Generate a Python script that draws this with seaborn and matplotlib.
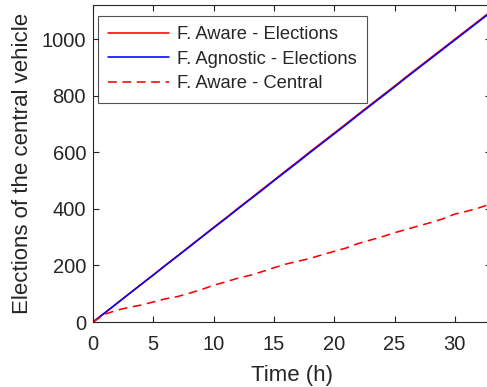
import matplotlib
matplotlib.use("Agg")
import matplotlib.pyplot as plt
import seaborn as sns
import pandas as pd

hours = list(range(0, 34))
aware_elections = [0, 33, 67, 100, 134, 167, 201, 234, 268, 301, 335, 368, 402, 435, 469, 502,
                   536, 569, 603, 636, 669, 702, 736, 769, 802, 835, 869, 902, 935, 968, 1001,
                   1034, 1067, 1100]
agnostic_elections = [0, 33, 66, 100, 133, 166, 200, 233, 266, 300, 333, 366, 400, 433, 466, 500,
                      533, 566, 600, 633, 666, 699, 733, 766, 799, 832, 866, 899, 932, 965, 998,
                      1031, 1064, 1097]
aware_central = [0, 28, 42, 52, 60, 71, 82, 90, 102, 115, 130, 142, 155, 165, 178, 192, 205,
                 215, 225, 238, 250, 262, 278, 290, 302, 316, 328, 340, 352, 365, 382, 392, 404, 418]
series_names = ["F. Aware - Elections", "F. Agnostic - Elections", "F. Aware - Central"]

sns.set_style("white")
plt.rcParams['font.family'] = ['Liberation Sans', 'DejaVu Sans']

df = pd.concat([
    pd.DataFrame({"t": hours, "v": aware_elections, "s": series_names[0]}),
    pd.DataFrame({"t": hours, "v": agnostic_elections, "s": series_names[1]}),
    pd.DataFrame({"t": hours, "v": aware_central, "s": series_names[2]}),
])

W, H = 487, 387
fig = plt.figure(figsize=(W / 100, H / 100), dpi=100)
ax = fig.add_axes([93 / W, 65 / H, 398 / W, 317 / H])
sns.lineplot(data=df, x="t", y="v", hue="s", style="s",
             palette={series_names[0]: "#ff0000", series_names[1]: "#0000ff", series_names[2]: "#ff0000"},
             dashes={series_names[0]: "", series_names[1]: "", series_names[2]: (5.5, 3.5)},
             linewidth=1.15, ax=ax)
ax.set_xlim(0, 33)
ax.set_ylim(0, 1122)
ax.set_xticks([0, 5, 10, 15, 20, 25, 30])
ax.set_yticks([0, 200, 400, 600, 800, 1000])
ax.set_xlabel("Time (h)", fontsize=16, color="#262626", labelpad=8)
ax.set_ylabel("Elections of the central vehicle", fontsize=16, color="#262626", labelpad=6)
ax.tick_params(direction="in", length=4, width=0.8, colors="#262626", labelsize=14.5,
               top=True, right=True, bottom=True, left=True)
ax.tick_params(axis="x", pad=9.5)
ax.tick_params(axis="y", pad=5)
for sp in ax.spines.values():
    sp.set_color("#262626")
    sp.set_linewidth(0.8)
leg = ax.legend(loc="upper left", bbox_to_anchor=(98 / W, 1 - 16 / H),
                bbox_transform=fig.transFigure, borderaxespad=0,
                fontsize=13.2, frameon=True, fancybox=False,
                edgecolor="#262626", handlelength=3.3, handletextpad=0.45,
                labelspacing=0.42, borderpad=0.55)
leg.get_frame().set_linewidth(0.8)
for t in leg.get_texts():
    t.set_color("#262626")
fig.savefig("out.png", dpi=100)
